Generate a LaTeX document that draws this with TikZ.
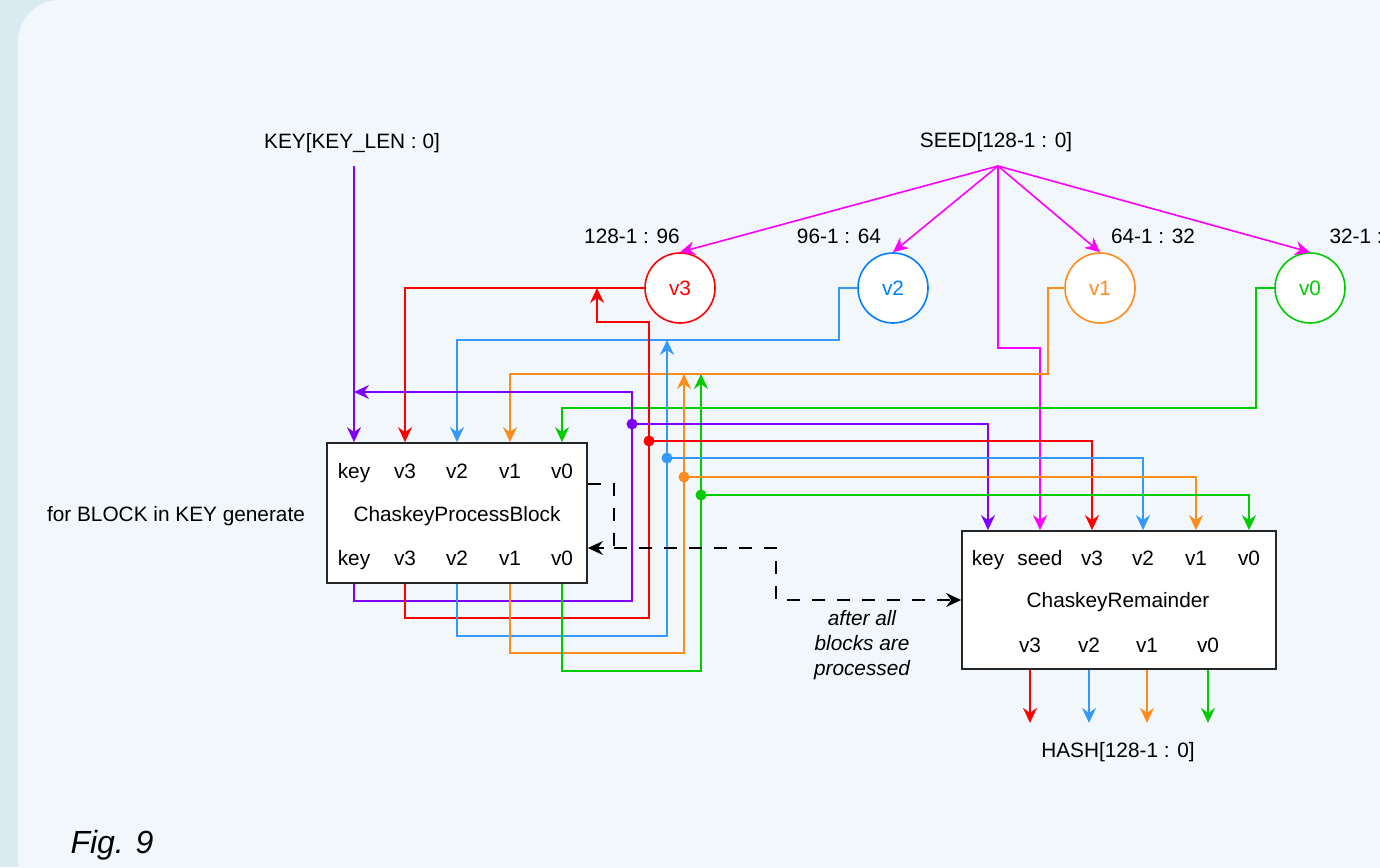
\documentclass[tikz,border=0pt]{standalone}
\usepackage{fontspec}
\setmainfont{Liberation Sans}
\usepackage{tikz}
\usetikzlibrary{arrows.meta,calc,positioning}
\definecolor{bgBand}{RGB}{218,236,242}
\definecolor{bgCard}{RGB}{242,247,251}
\definecolor{cKey}{RGB}{127,0,255}
\definecolor{cSeed}{RGB}{255,0,255}
\definecolor{cV3}{RGB}{255,0,0}
\definecolor{cV2}{RGB}{51,153,255}
\definecolor{cV1}{RGB}{255,140,26}
\definecolor{cV0}{RGB}{0,204,0}
\definecolor{cV2ring}{RGB}{0,127,255}
\newcommand{\dgfont}{\fontsize{20.8}{25}\selectfont}

\begin{document}
\begin{tikzpicture}[x=1pt,y=-1pt,font=\dgfont,
  wire/.style={line width=1.6pt,-{Stealth[length=15pt,width=14pt,inset=5pt]}},
  reg/.style={circle,draw,line width=1.6pt,fill=white,minimum size=70pt,inner sep=0pt},
  block/.style={draw=black!85,line width=1.8pt,fill=white},
  ctrl/.style={line width=1.6pt,dash pattern=on 13pt off 12pt},
  port/.style={anchor=base}]

%─── Background card ─────────────────────────────────────────────────────────
\useasboundingbox (0,0) rectangle (1380,867);
\fill[bgBand] (0,0) rectangle (1380,867);
\fill[bgCard,rounded corners=42pt] (18,0) rectangle (1440,900);

%─── Inputs ──────────────────────────────────────────────────────────────────
\node[port] (keyin) at (352,148) {KEY[KEY\_LEN : 0]};
\node[port] (seedin) at (996,147) {SEED[128-1 : 0]};
\coordinate (keytop) at (354,166);
\coordinate (fan) at (998,166);

% seed split into four state words
\node[reg,draw=cV3,text=cV3] (r3) at (680,288) {v3};
\node[reg,draw=cV2ring,text=cV2ring] (r2) at (893,288) {v2};
\node[reg,draw=cV1,text=cV1] (r1) at (1100,288) {v1};
\node[reg,draw=cV0,text=cV0] (r0) at (1310,288) {v0};
\node[port] (rg3) at (632,243) {128-1 : 96};
\node[port] (rg2) at (839,243) {96-1 : 64};
\node[port] (rg1) at (1153,243) {64-1 : 32};
\node[anchor=base west] (rg0) at (1326,243) {32-1 :};

%─── ChaskeyProcessBlock ─────────────────────────────────────────────────────
\node[block,minimum width=260pt,minimum height=140pt] (pb) at (457,513) {};
\node[port] (pbikey) at (354,478) {key};
\node[port] (pbiv3) at (405,478) {v3};
\node[port] (pbiv2) at (457,478) {v2};
\node[port] (pbiv1) at (510,478) {v1};
\node[port] (pbiv0) at (562,478) {v0};
\node[port] (pbname) at (457,521) {ChaskeyProcessBlock};
\node[port] (pbokey) at (354,565) {key};
\node[port] (pbov3) at (405,565) {v3};
\node[port] (pbov2) at (457,565) {v2};
\node[port] (pbov1) at (510,565) {v1};
\node[port] (pbov0) at (562,565) {v0};
\node[port] (loopnote) at (176,521) {for BLOCK in KEY generate};

%─── ChaskeyRemainder ────────────────────────────────────────────────────────
\node[block,minimum width=314pt,minimum height=138pt] (rm) at (1119,600) {};
\node[port] (rmikey) at (988,565) {key};
\node[port] (rmiseed) at (1040,565) {seed};
\node[port] (rmiv3) at (1092,565) {v3};
\node[port] (rmiv2) at (1143,565) {v2};
\node[port] (rmiv1) at (1196,565) {v1};
\node[port] (rmiv0) at (1249,565) {v0};
\node[port] (rmname) at (1118,607) {ChaskeyRemainder};
\node[port] (rmov3) at (1030,652) {v3};
\node[port] (rmov2) at (1089,652) {v2};
\node[port] (rmov1) at (1147,652) {v1};
\node[port] (rmov0) at (1208,652) {v0};
\node[port] (hashout) at (1118,757) {HASH[128-1 : 0]};
\node[font=\dgfont\itshape,align=center] (afternote) at (862,645)
  {after all\\blocks are\\processed};

%─── Seed fan-out ────────────────────────────────────────────────────────────
\draw[wire,cSeed] (fan) -- (r3.north);
\draw[wire,cSeed] (fan) -- (r2.north);
\draw[wire,cSeed] (fan) -- (r1.north);
\draw[wire,cSeed] (fan) -- (r0.north);
\draw[wire,cSeed] (fan) -- ++(0,182) -| (rmiseed |- rm.north);

%─── State words into the block ──────────────────────────────────────────────
\draw[wire,cKey] (keytop) -- (pbikey |- pb.north);
\draw[wire,cV3] (r3.west) -| (pbiv3 |- pb.north);
\draw[wire,cV2] (r2.west) -- ++(-18,0) -- ++(0,52) -| (pbiv2 |- pb.north);
\draw[wire,cV1] (r1.west) -- ++(-16,0) -- ++(0,86) -| (pbiv1 |- pb.north);
\draw[wire,cV0] (r0.west) -- ++(-18,0) -- ++(0,120) -| (pbiv0 |- pb.north);

%─── Feedback from block outputs ─────────────────────────────────────────────
\coordinate (tkey) at (632,424);
\coordinate (tv3) at (649,441);
\coordinate (tv2) at (667,458);
\coordinate (tv1) at (684,477);
\coordinate (tv0) at (701,495);
\coordinate (keyret) at (354,392);
\coordinate (v3ret) at (597,288);

\draw[wire,cKey] (pbokey |- pb.south) -- ++(0,17) -| (tkey) -- ++(0,-32) -- (keyret);
\draw[wire,cV3] (pbov3 |- pb.south) -- ++(0,34) -| (tv3) -- ++(0,-119) -| (v3ret);
\draw[wire,cV2] (pbov2 |- pb.south) -- ++(0,52) -| (tv2) -- ++(0,-118);
\draw[wire,cV1] (pbov1 |- pb.south) -- ++(0,69) -| (tv1) -- ++(0,-103);
\draw[wire,cV0] (pbov0 |- pb.south) -- ++(0,87) -| (tv0) -- ++(0,-121);

% taps into the remainder
\draw[wire,cKey] (tkey) -| (rmikey |- rm.north);
\draw[wire,cV3] (tv3) -| (rmiv3 |- rm.north);
\draw[wire,cV2] (tv2) -| (rmiv2 |- rm.north);
\draw[wire,cV1] (tv1) -| (rmiv1 |- rm.north);
\draw[wire,cV0] (tv0) -| (rmiv0 |- rm.north);
\fill[cKey] (tkey) circle (5.5);
\fill[cV3] (tv3) circle (5.5);
\fill[cV2] (tv2) circle (5.5);
\fill[cV1] (tv1) circle (5.5);
\fill[cV0] (tv0) circle (5.5);

%─── Control flow (dashed) ───────────────────────────────────────────────────
\coordinate (loopc) at ($(pb.east)+(26,35)$);
\draw[ctrl,-{Stealth[length=15pt,width=14pt,inset=5pt]}]
  ($(pb.east)+(0,-29)$) -- ++(26,0) -- (loopc) -- ($(pb.east)+(0,35)$);
\draw[ctrl,-{Stealth[length=15pt,width=14pt,inset=5pt]}]
  (loopc) -- ++(162,0) -- ++(0,52) -- (rm.west);

%─── Hash output ─────────────────────────────────────────────────────────────
\draw[wire,cV3] (rmov3 |- rm.south) -- ++(0,53);
\draw[wire,cV2] (rmov2 |- rm.south) -- ++(0,53);
\draw[wire,cV1] (rmov1 |- rm.south) -- ++(0,53);
\draw[wire,cV0] (rmov0 |- rm.south) -- ++(0,53);

\node[anchor=base west,font=\fontsize{32}{38}\selectfont\itshape] (figno) at (67,853) {Fig. 9};

\end{tikzpicture}
\end{document}
